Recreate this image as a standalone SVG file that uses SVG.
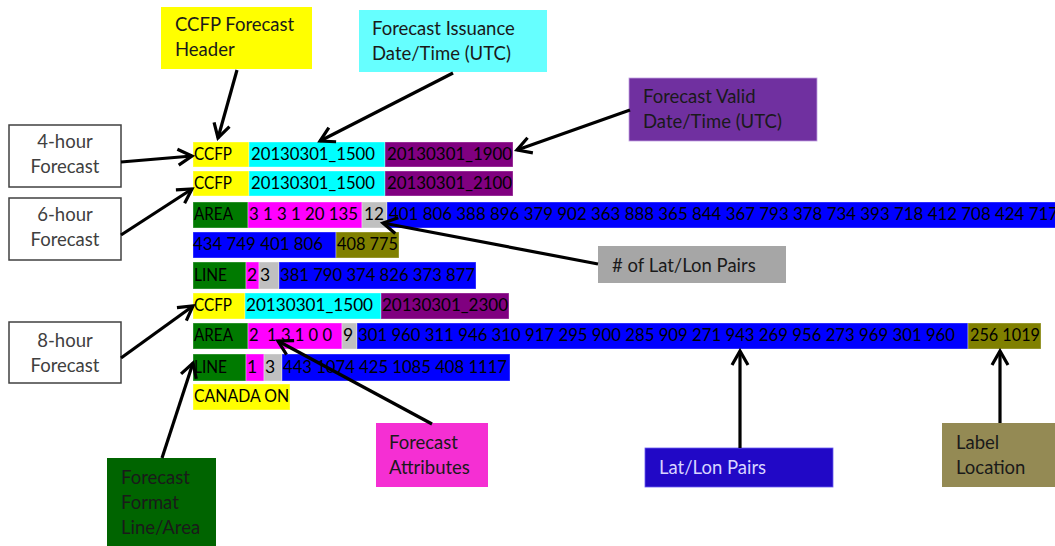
<svg xmlns="http://www.w3.org/2000/svg" width="1055" height="546" viewBox="0 0 1055 546">
<defs>
<style>
text{font-family:Lato,"Liberation Sans",sans-serif;fill:#000}
.d{font-size:17.5px}
.l{font-size:18.5px;fill:#1a1a1a}
.cell{stroke:#ffffff;stroke-opacity:0.35;stroke-width:1}
.y{fill:#FFFF00}.c{fill:#00FFFF}.p{fill:#800080}.g{fill:#007A00}.m{fill:#FF00FF}.s{fill:#C0C0C0}.b{fill:#0000FF}.o{fill:#808000}
.wbox{fill:#fff;stroke:#404040;stroke-width:1.5}
.wt{font-size:18.5px;fill:#404040;text-anchor:middle}
.conn{stroke:#000;stroke-width:3.2;fill:none;marker-end:url(#ah)}
</style>
<marker id="ah" markerUnits="userSpaceOnUse" markerWidth="20" markerHeight="20" viewBox="0 0 20 20" refX="16" refY="10" orient="auto">
<path d="M2,2 L16,10 L2,18" fill="none" stroke="#000" stroke-width="3.2"/>
</marker>
</defs>
<rect width="1055" height="546" fill="#fff"/>

<g id="row1">
<rect class="cell y" x="193" y="142" width="56" height="25"/>
<rect class="cell c" x="249" y="142" width="136" height="25"/>
<rect class="cell p" x="385" y="142" width="128" height="25"/>
<text class="d" x="194" y="160" textLength="38" lengthAdjust="spacingAndGlyphs">CCFP</text>
<text class="d" x="251" y="160" textLength="124" lengthAdjust="spacingAndGlyphs">20130301_1500</text>
<text class="d" x="387" y="160" textLength="125" lengthAdjust="spacingAndGlyphs">20130301_1900</text>
</g>
<g id="row2">
<rect class="cell y" x="193" y="171" width="56" height="25"/>
<rect class="cell c" x="249" y="171" width="136" height="25"/>
<rect class="cell p" x="385" y="171" width="128" height="25"/>
<text class="d" x="194" y="189" textLength="38" lengthAdjust="spacingAndGlyphs">CCFP</text>
<text class="d" x="251" y="189" textLength="124" lengthAdjust="spacingAndGlyphs">20130301_1500</text>
<text class="d" x="387" y="189" textLength="125" lengthAdjust="spacingAndGlyphs">20130301_2100</text>
</g>
<g id="row3">
<rect class="cell g" x="193" y="202" width="55" height="26"/>
<rect class="cell m" x="248" y="202" width="114" height="26"/>
<rect class="cell s" x="362" y="202" width="25" height="26"/>
<rect class="cell b" x="387" y="202" width="670" height="26"/>
<text class="d" x="194" y="220" textLength="39" lengthAdjust="spacingAndGlyphs">AREA</text>
<text class="d" x="249" y="220" textLength="109" lengthAdjust="spacingAndGlyphs">3 1 3 1 20 135</text>
<text class="d" x="364" y="220" textLength="20" lengthAdjust="spacingAndGlyphs">12</text>
<text class="d" x="389" y="220" textLength="669" lengthAdjust="spacingAndGlyphs">401 806 388 896 379 902 363 888 365 844 367 793 378 734 393 718 412 708 424 717</text>
</g>
<g id="row4">
<rect class="cell b" x="193" y="232" width="143" height="26"/>
<rect class="cell o" x="336" y="232" width="63" height="26"/>
<text class="d" x="193" y="250" textLength="130" lengthAdjust="spacingAndGlyphs">434 749 401 806</text>
<text class="d" x="337" y="250" textLength="61" lengthAdjust="spacingAndGlyphs">408 775</text>
</g>
<g id="row5">
<rect class="cell g" x="193" y="262" width="53" height="27"/>
<rect class="cell m" x="246" y="262" width="13" height="27"/>
<rect class="cell s" x="259" y="262" width="20" height="27"/>
<rect class="cell b" x="279" y="262" width="197" height="27"/>
<text class="d" x="194" y="281" textLength="33" lengthAdjust="spacingAndGlyphs">LINE</text>
<text class="d" x="247" y="281">2</text>
<text class="d" x="260" y="281">3</text>
<text class="d" x="280" y="281" textLength="195" lengthAdjust="spacingAndGlyphs">381 790 374 826 373 877</text>
</g>
<g id="row6">
<rect class="cell y" x="193" y="293" width="52" height="26"/>
<rect class="cell c" x="245" y="293" width="136" height="26"/>
<rect class="cell p" x="381" y="293" width="128" height="26"/>
<text class="d" x="194" y="311" textLength="38" lengthAdjust="spacingAndGlyphs">CCFP</text>
<text class="d" x="246" y="311" textLength="127" lengthAdjust="spacingAndGlyphs">20130301_1500</text>
<text class="d" x="382" y="311" textLength="126" lengthAdjust="spacingAndGlyphs">20130301_2300</text>
</g>
<g id="row7">
<rect class="cell g" x="193" y="323" width="55" height="26"/>
<rect class="cell m" x="248" y="323" width="94" height="26"/>
<rect class="cell s" x="342" y="323" width="15" height="26"/>
<rect class="cell b" x="357" y="323" width="611" height="26"/>
<rect class="cell o" x="968" y="323" width="73" height="26"/>
<text class="d" x="194" y="341" textLength="39" lengthAdjust="spacingAndGlyphs">AREA</text>
<text class="d" x="249" y="341" textLength="83" lengthAdjust="spacingAndGlyphs" style="white-space:pre">2  1 3 1 0 0</text>
<text class="d" x="343" y="341">9</text>
<text class="d" x="358" y="341" textLength="597" lengthAdjust="spacingAndGlyphs" style="font-size:16.8px">301 960 311 946 310 917 295 900 285 909 271 943 269 956 273 969 301 960</text>
<text class="d" x="970" y="341" textLength="70" lengthAdjust="spacingAndGlyphs">256 1019</text>
</g>
<g id="row8">
<rect class="cell g" x="193" y="354" width="53" height="27"/>
<rect class="cell m" x="246" y="354" width="18" height="27"/>
<rect class="cell s" x="264" y="354" width="18" height="27"/>
<rect class="cell b" x="282" y="354" width="228" height="27"/>
<text class="d" x="194" y="373" textLength="33" lengthAdjust="spacingAndGlyphs">LINE</text>
<text class="d" x="247" y="373">1</text>
<text class="d" x="265" y="373">3</text>
<text class="d" x="283" y="373" textLength="224" lengthAdjust="spacingAndGlyphs">443 1074 425 1085 408 1117</text>
</g>
<g id="row9">
<rect class="cell y" x="193" y="384" width="97" height="26"/>
<text class="d" x="194" y="402" textLength="95" lengthAdjust="spacingAndGlyphs">CANADA ON</text>
</g>

<g id="header-label">
<rect x="161" y="7" width="151" height="62" fill="#FFFF00"/>
<text class="l" x="175" y="31">CCFP Forecast</text>
<text class="l" x="175" y="56">Header</text>
</g>
<g id="issuance-label">
<rect x="359" y="10" width="188" height="62" fill="#66FFFF"/>
<text class="l" x="372" y="35">Forecast Issuance</text>
<text class="l" x="372" y="60">Date/Time (UTC)</text>
</g>
<g id="valid-label">
<rect x="629" y="78" width="188" height="63" fill="#7030A0" stroke="#c0a0e0" stroke-width="0.8"/>
<text class="l" x="643" y="103">Forecast Valid</text>
<text class="l" x="643" y="128">Date/Time (UTC)</text>
</g>
<g id="pairs-count-label">
<rect x="598" y="246" width="188" height="37" fill="#A6A6A6"/>
<text class="l" x="612" y="272"># of Lat/Lon Pairs</text>
</g>
<g id="fc4">
<rect class="wbox" x="9" y="125" width="112" height="62"/>
<text class="wt" x="65" y="148">4-hour</text>
<text class="wt" x="65" y="173">Forecast</text>
</g>
<g id="fc6">
<rect class="wbox" x="9" y="198" width="112" height="62"/>
<text class="wt" x="65" y="221">6-hour</text>
<text class="wt" x="65" y="246">Forecast</text>
</g>
<g id="fc8">
<rect class="wbox" x="9" y="322" width="112" height="61"/>
<text class="wt" x="65" y="347">8-hour</text>
<text class="wt" x="65" y="372">Forecast</text>
</g>
<g id="format-label">
<rect x="107" y="458" width="109" height="90" fill="#006400"/>
<text class="l" x="121" y="484">Forecast</text>
<text class="l" x="121" y="509">Format</text>
<text class="l" x="121" y="534">Line/Area</text>
</g>
<g id="attributes-label">
<rect x="376" y="423" width="112" height="64" fill="#F52FD3"/>
<text class="l" x="389" y="449">Forecast</text>
<text class="l" x="389" y="474">Attributes</text>
</g>
<g id="latlon-label">
<rect x="645" y="448" width="188" height="39" fill="#2108C6" stroke="#6a5cf0" stroke-width="0.8"/>
<text class="l" x="659" y="474" style="fill:#d8d4ff">Lat/Lon Pairs</text>
</g>
<g id="location-label">
<rect x="942" y="423" width="115" height="64" fill="#948A54"/>
<text class="l" x="956" y="449">Label</text>
<text class="l" x="956" y="474">Location</text>
</g>

<g id="connectors">
<line class="conn" x1="237" y1="70" x2="218" y2="138"/>
<line class="conn" x1="453" y1="73" x2="320" y2="141"/>
<line class="conn" x1="630" y1="110" x2="517" y2="150"/>
<line class="conn" x1="121" y1="162" x2="192" y2="156"/>
<line class="conn" x1="121" y1="235" x2="192" y2="189"/>
<line class="conn" x1="121" y1="358" x2="193" y2="306"/>
<line class="conn" x1="162" y1="458" x2="193" y2="363"/>
<line class="conn" x1="432" y1="424" x2="278" y2="341"/>
<line class="conn" x1="598" y1="264" x2="383" y2="223"/>
<line class="conn" x1="740" y1="448" x2="740" y2="351"/>
<line class="conn" x1="1000" y1="423" x2="1000" y2="351"/>
</g>
</svg>
